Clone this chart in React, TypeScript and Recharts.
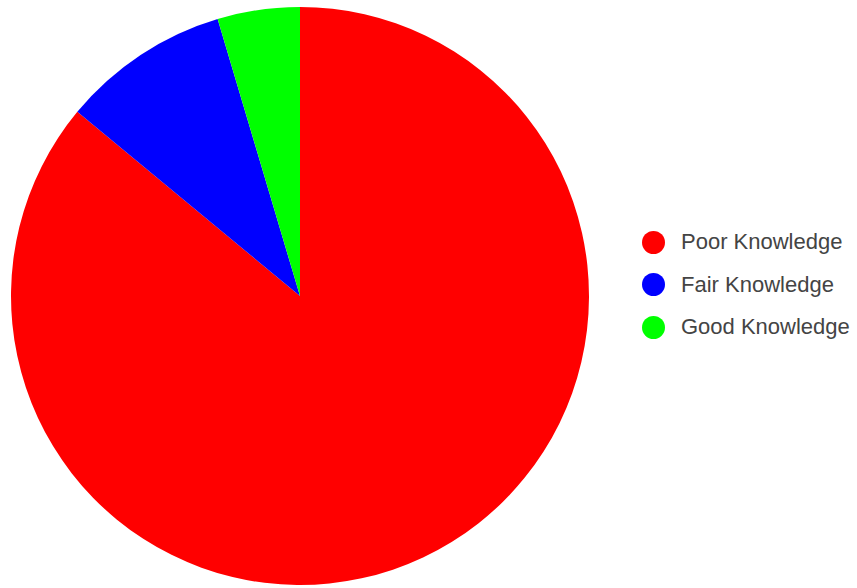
import { PieChart, Pie, Cell, Legend } from 'recharts'

const categories = ['Poor Knowledge', 'Fair Knowledge', 'Good Knowledge']
const values = [86, 9.4, 4.6]
const colors = ['#ff0000', '#0000ff', '#00ff00']

const data = categories.map((name, i) => ({ name, value: values[i], fill: colors[i] }))

const renderLegend = () => (
  <div style={{ fontFamily: 'Arial, "Liberation Sans", sans-serif' }}>
    {data.map((d) => (
      <div key={d.name} style={{ display: 'flex', alignItems: 'center', height: 42.5 }}>
        <span
          style={{
            display: 'inline-block',
            width: 23,
            height: 23,
            borderRadius: '50%',
            background: d.fill,
            marginRight: 16,
          }}
        />
        <span style={{ fontSize: 22, color: '#444' }}>{d.name}</span>
      </div>
    ))}
  </div>
)

export default function App() {
  return (
    <div style={{ position: 'absolute', left: 0, top: 0, background: '#fff' }}>
      <PieChart width={857} height={588}>
        <Pie
          data={data}
          dataKey="value"
          nameKey="name"
          cx={295}
          cy={291}
          outerRadius={289}
          startAngle={90}
          endAngle={-270}
          stroke="none"
          isAnimationActive={false}
        >
          {data.map((d) => (
            <Cell key={d.name} fill={d.fill} />
          ))}
        </Pie>
        <Legend
          layout="vertical"
          content={renderLegend}
          wrapperStyle={{ position: 'absolute', left: 642, top: 221, width: 215 }}
        />
      </PieChart>
    </div>
  )
}
